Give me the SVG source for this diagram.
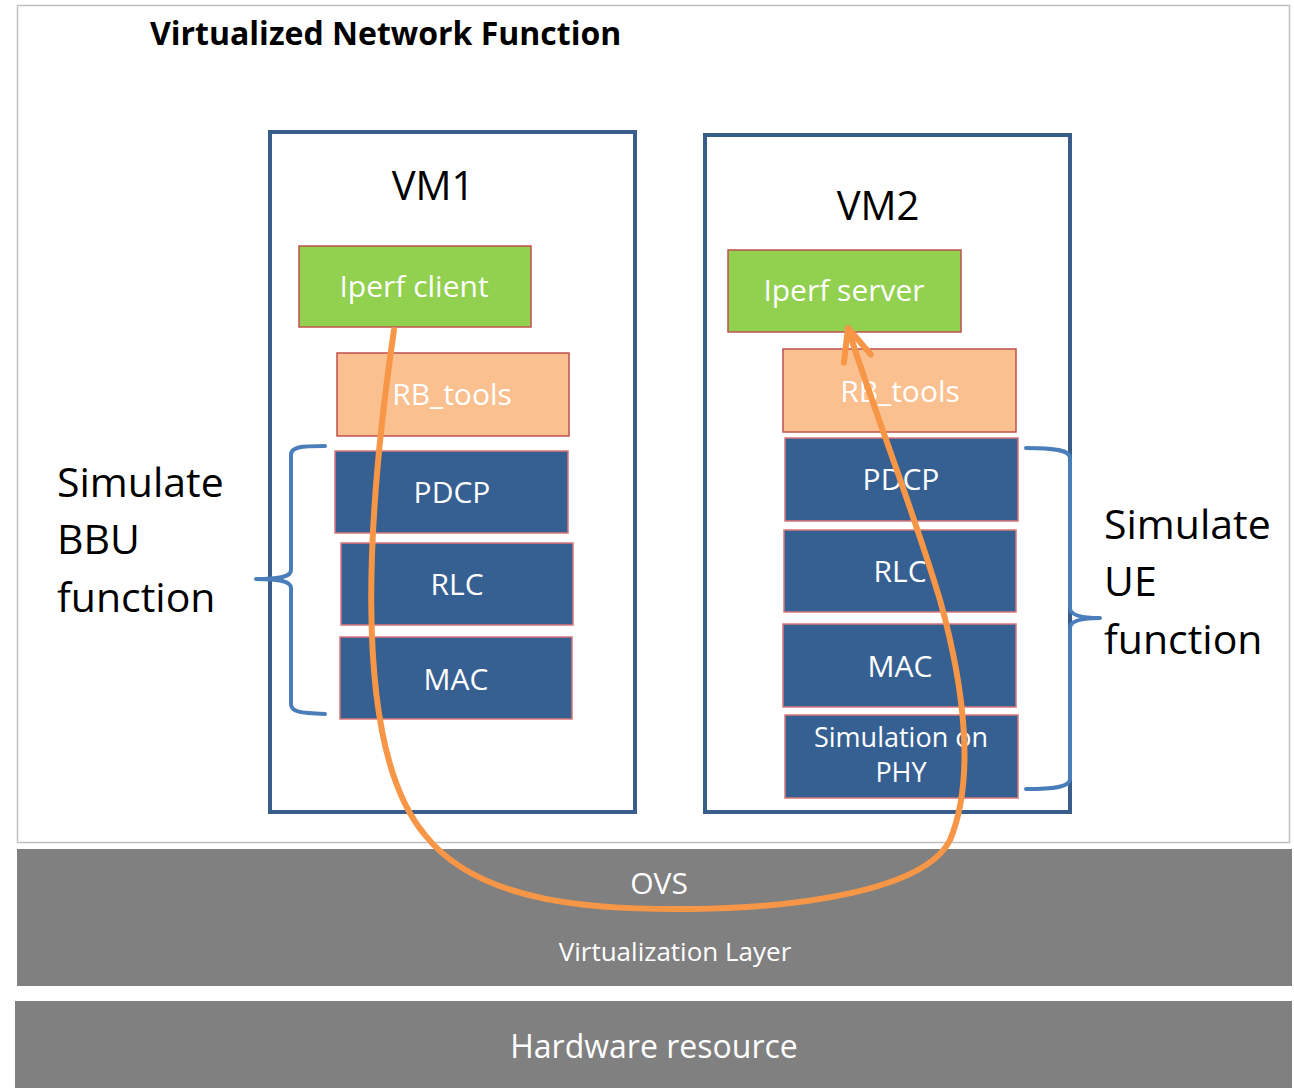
<svg xmlns="http://www.w3.org/2000/svg" width="1294" height="1088" viewBox="0 0 1294 1088">
<style>
text{font-family:"Open Sans","Noto Sans","DejaVu Sans",sans-serif}
.vm{fill:#fff;stroke:#385d8a;stroke-width:4}
.blue{fill:#366092;stroke:#d9767a;stroke-width:1.5}
.green{fill:#92d050;stroke:#c0504d;stroke-width:1.5}
.peach{fill:#fac090;stroke:#c0504d;stroke-width:1.5}
.wt{fill:#fff;font-size:30px;text-anchor:middle}
.big{fill:#000;font-size:41px}
.brace{fill:none;stroke:#4a7ebb;stroke-width:4;stroke-linecap:round;stroke-linejoin:round}
.gray{fill:#808080}
.flow{fill:none;stroke:#f79646;stroke-width:6;stroke-linecap:round}
</style>
<defs>
<marker id="open" markerUnits="userSpaceOnUse" viewBox="-40 -25 50 50" refX="0" refY="0" markerWidth="50" markerHeight="50" orient="auto" overflow="visible">
<path d="M-32,-14 L0,0 L-32,14" fill="none" stroke="#f79646" stroke-width="6" stroke-linecap="round" stroke-linejoin="round"/>
</marker>
</defs>
<rect width="1294" height="1088" fill="#fff"/>
<g id="vnf">
<rect x="17.5" y="5.5" width="1272" height="837" fill="#fff" stroke="#bfbfbf" stroke-width="1.5"/>
<text x="150" y="45" font-size="32" font-weight="bold" fill="#000">Virtualized Network Function</text>
</g>
<g id="vm1">
<rect class="vm" x="270" y="132" width="365" height="680"/>
<text x="433" y="200" font-size="40" text-anchor="middle" fill="#000">VM1</text>
</g>
<g id="vm2">
<rect class="vm" x="705" y="135" width="365" height="677"/>
<text x="878" y="220" font-size="40" text-anchor="middle" fill="#000">VM2</text>
</g>
<g id="iperf-client"><rect class="green" x="299" y="246" width="232" height="81"/><text class="wt" x="414" y="297">Iperf client</text></g>
<g id="rb-tools-1"><rect class="peach" x="337" y="353" width="232" height="83"/><text class="wt" x="452" y="405">RB_tools</text></g>
<g id="pdcp-1"><rect class="blue" x="335" y="451" width="233" height="82"/><text class="wt" x="452" y="503">PDCP</text></g>
<g id="rlc-1"><rect class="blue" x="341" y="543" width="232" height="82"/><text class="wt" x="457" y="595">RLC</text></g>
<g id="mac-1"><rect class="blue" x="340" y="637" width="232" height="82"/><text class="wt" x="456" y="690">MAC</text></g>
<g id="iperf-server"><rect class="green" x="728" y="250" width="233" height="82"/><text class="wt" x="844" y="301">Iperf server</text></g>
<g id="rb-tools-2"><rect class="peach" x="783" y="349" width="233" height="83"/><text class="wt" x="900" y="402">RB_tools</text></g>
<g id="pdcp-2"><rect class="blue" x="785" y="438" width="233" height="83"/><text class="wt" x="901" y="490">PDCP</text></g>
<g id="rlc-2"><rect class="blue" x="784" y="530" width="232" height="82"/><text class="wt" x="900" y="582">RLC</text></g>
<g id="mac-2"><rect class="blue" x="783" y="624" width="233" height="83"/><text class="wt" x="900" y="677">MAC</text></g>
<g id="phy-2"><rect class="blue" x="785" y="715" width="233" height="83"/><text class="wt" x="901" y="747" style="font-size:27px">Simulation on</text><text class="wt" x="901" y="782" style="font-size:27px">PHY</text></g>
<g id="bbu-label">
<path class="brace" d="M325,446 C300,446 291,447 291,455 L291,570 C291,577 280,579 256,579 C280,579 291,581 291,588 L291,704 C291,712 300,713 325,714"/>
<text class="big" x="57" y="497">Simulate</text>
<text class="big" x="57" y="554">BBU</text>
<text class="big" x="57" y="612">function</text>
</g>
<g id="ue-label">
<path class="brace" d="M1026,448 C1055,448 1070,450 1070,458 L1070,608 C1070,615 1080,618 1100,618 C1080,618 1070,621 1070,628 L1070,779 C1070,787 1055,789 1026,789"/>
<text class="big" x="1104" y="539">Simulate</text>
<text class="big" x="1104" y="596">UE</text>
<text class="big" x="1104" y="654">function</text>
</g>
<g id="virtualization-layer">
<rect class="gray" x="17" y="849" width="1275" height="137"/>
<text class="wt" x="659" y="894" font-size="29">OVS</text>
<text class="wt" x="675" y="961" style="font-size:26px">Virtualization Layer</text>
</g>
<g id="hardware-resource">
<rect class="gray" x="15" y="1001" width="1277" height="87"/>
<text class="wt" x="654" y="1058" style="font-size:32px">Hardware resource</text>
</g>
<g id="connectors">
<path class="flow" marker-end="url(#open)" d="M394,330 C372,480 345,740 425,835 C480,905 600,910 690,909 C800,908 925,890 950,840 C975,780 965,690 940,600 C910,500 870,400 848,328"/>
</g>
</svg>
